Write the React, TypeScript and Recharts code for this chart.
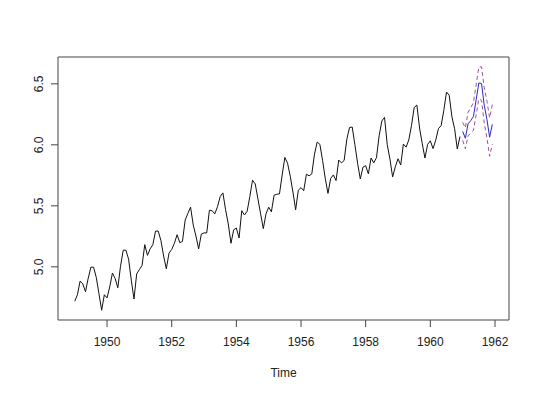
import React from "react";
import { LineChart, Line, XAxis, YAxis, ReferenceArea } from "recharts";

// log(AirPassengers), monthly, 1949..1960
const observed = [
  4.718, 4.771, 4.883, 4.860, 4.796, 4.905, 4.997, 4.997, 4.913, 4.779, 4.644, 4.771,
  4.745, 4.836, 4.949, 4.905, 4.828, 5.004, 5.136, 5.136, 5.063, 4.890, 4.736, 4.942,
  4.977, 5.011, 5.182, 5.094, 5.147, 5.182, 5.293, 5.293, 5.215, 5.088, 4.984, 5.112,
  5.142, 5.193, 5.263, 5.198, 5.209, 5.384, 5.438, 5.489, 5.342, 5.252, 5.147, 5.268,
  5.278, 5.278, 5.464, 5.460, 5.434, 5.493, 5.576, 5.606, 5.468, 5.352, 5.193, 5.303,
  5.318, 5.236, 5.460, 5.425, 5.455, 5.576, 5.710, 5.680, 5.557, 5.434, 5.313, 5.434,
  5.489, 5.451, 5.587, 5.595, 5.598, 5.753, 5.897, 5.849, 5.743, 5.613, 5.468, 5.628,
  5.649, 5.624, 5.759, 5.746, 5.762, 5.924, 6.023, 6.004, 5.872, 5.724, 5.602, 5.724,
  5.753, 5.707, 5.875, 5.852, 5.872, 6.045, 6.142, 6.146, 6.001, 5.849, 5.720, 5.817,
  5.829, 5.762, 5.892, 5.852, 5.894, 6.075, 6.196, 6.225, 6.001, 5.883, 5.737, 5.820,
  5.886, 5.835, 6.006, 5.981, 6.040, 6.157, 6.306, 6.326, 6.138, 6.009, 5.892, 6.004,
  6.033, 5.969, 6.038, 6.133, 6.157, 6.282, 6.433, 6.407, 6.230, 6.133, 5.966, 6.068,
];

// 1961 forecast and bands
const forecast = [6.110, 6.054, 6.172, 6.199, 6.233, 6.369, 6.507, 6.503, 6.325, 6.209, 6.063, 6.168];
const upper = [6.184, 6.139, 6.268, 6.305, 6.347, 6.491, 6.638, 6.640, 6.469, 6.360, 6.221, 6.331];
const lower = [6.037, 5.968, 6.075, 6.094, 6.118, 6.246, 6.377, 6.365, 6.180, 6.058, 5.906, 6.005];

const startYear = 1949;
const xTicks = [1950, 1952, 1954, 1956, 1958, 1960, 1962];
const yTicks = [5.0, 5.5, 6.0, 6.5];
const xDomain: [number, number] = [1948.483, 1962.433];
const yDomain: [number, number] = [4.564, 6.72];

const data = [
  ...observed.map((v, i) => ({ t: startYear + i / 12, obs: v })),
  ...forecast.map((v, i) => ({
    t: startYear + (observed.length + i) / 12,
    pred: v,
    hi: upper[i],
    lo: lower[i],
  })),
];

const font = "'Liberation Sans', Arial, sans-serif";
const axisColor = "#444";

function YTick({ x, y, payload }: any) {
  const tx = x - 6;
  return (
    <text
      x={tx}
      y={y}
      transform={`rotate(-90, ${tx}, ${y})`}
      textAnchor="middle"
      fontSize={12}
      fontFamily={font}
      fill="#222"
    >
      {payload.value.toFixed(1)}
    </text>
  );
}

export default function App() {
  return (
    <div style={{ position: "absolute", left: 0, top: 0, background: "#fff" }}>
      <LineChart
        width={540}
        height={393}
        data={data}
        margin={{ top: 57, right: 31, left: 0, bottom: 0 }}
      >
        <XAxis
          dataKey="t"
          type="number"
          domain={xDomain}
          ticks={xTicks}
          allowDataOverflow
          axisLine={false}
          tickLine={{ stroke: axisColor }}
          tickSize={7}
          tickMargin={10}
          height={73}
          tick={{ fontSize: 12, fontFamily: font, fill: "#222" }}
          label={{
            value: "Time",
            position: "insideBottom",
            offset: 16,
            fontSize: 12,
            fontFamily: font,
            fill: "#222",
          }}
        />
        <YAxis
          type="number"
          domain={yDomain}
          ticks={yTicks}
          allowDataOverflow
          axisLine={false}
          tickLine={{ stroke: axisColor }}
          tickSize={7}
          width={58}
          tick={<YTick />}
        />
        <ReferenceArea
          x1={xDomain[0]}
          x2={xDomain[1]}
          y1={yDomain[0]}
          y2={yDomain[1]}
          fill="none"
          fillOpacity={0}
          stroke={axisColor}
          strokeWidth={1}
          ifOverflow="visible"
        />
        <Line
          dataKey="obs"
          stroke="#111"
          strokeWidth={1}
          dot={false}
          type="linear"
          isAnimationActive={false}
        />
        <Line
          dataKey="hi"
          stroke="#a0509a"
          strokeWidth={1}
          strokeDasharray="4 3"
          dot={false}
          type="linear"
          isAnimationActive={false}
        />
        <Line
          dataKey="lo"
          stroke="#a0509a"
          strokeWidth={1}
          strokeDasharray="4 3"
          dot={false}
          type="linear"
          isAnimationActive={false}
        />
        <Line
          dataKey="pred"
          stroke="#2a2ac0"
          strokeWidth={1}
          dot={false}
          type="linear"
          isAnimationActive={false}
        />
      </LineChart>
    </div>
  );
}
